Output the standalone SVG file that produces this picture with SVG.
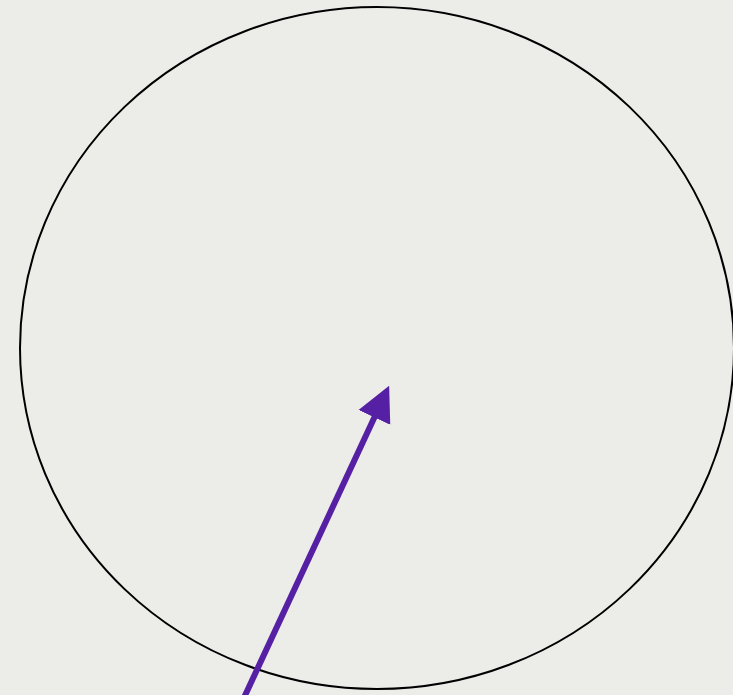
<svg xmlns="http://www.w3.org/2000/svg" width="733" height="695" viewBox="0 0 733 695">
  <style>
    .bg { fill: #ecece9; }
    .ring { fill: none; stroke: #000; stroke-width: 2; }
    .conn { stroke: #5520a3; stroke-width: 6; fill: none; }
  </style>
  <defs>
    <marker id="head" markerUnits="userSpaceOnUse" markerWidth="36" markerHeight="37" refX="1" refY="18" orient="auto">
      <path d="M0,0.5 L35,18 L0,35.5 z" fill="#5520a3"/>
    </marker>
  </defs>
  <rect class="bg" x="0" y="0" width="733" height="695"/>
  <g id="circle">
    <ellipse class="ring" cx="377" cy="348" rx="357" ry="341"/>
  </g>
  <g id="connectors">
    <line class="conn" x1="242" y1="702" x2="374.8" y2="416.5" marker-end="url(#head)"/>
  </g>
</svg>
